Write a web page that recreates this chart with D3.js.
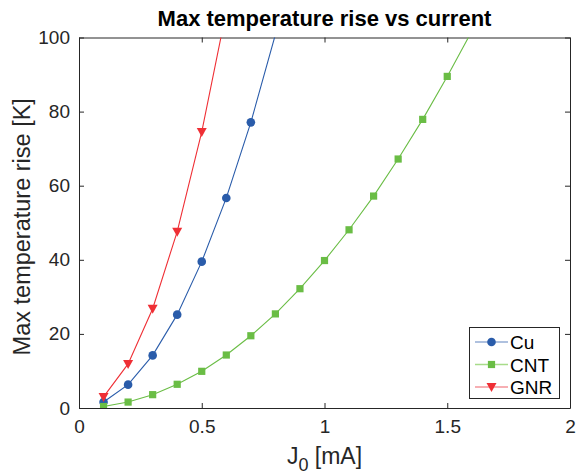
<!DOCTYPE html>
<html>
<head>
<meta charset="utf-8">
<script src="https://cdn.jsdelivr.net/npm/d3@7"></script>
<style>
  body { margin: 0; background: #fff; }
  text { font-family: "Liberation Sans", Arial, sans-serif; }
</style>
</head>
<body>
<script>
// current values (mA)
var current = [0.1, 0.2, 0.3, 0.4, 0.5, 0.6, 0.7, 0.8, 0.9, 1.0, 1.1, 1.2, 1.3, 1.4, 1.5, 1.6];

// max temperature rise (K) per material
var cuRise = [1.6, 6.3, 14.2, 25.2, 39.5, 56.7, 77.1, 100.8];
var cntRise = [0.4, 1.6, 3.6, 6.4, 9.9, 14.3, 19.5, 25.4, 32.2, 39.8, 48.1, 57.2, 67.2, 77.9, 89.5, 101.7];
var gnrRise = [3.0, 11.9, 26.8, 47.6, 74.5, 107.2];

var seriesNames = ['Cu', 'CNT', 'GNR'];
var xTicks = [0, 0.5, 1, 1.5, 2];
var yTicks = [0, 20, 40, 60, 80, 100];

(function () {
var width = 577, height = 475;
// plot box edges (note: "top" is reserved on window, so use other names)
var pLeft = 79, pRight = 570, pTop = 37.5, pBottom = 408;

var svg = d3.select('body').append('svg')
  .attr('width', width)
  .attr('height', height);

var x = d3.scaleLinear().domain([0, 2]).range([pLeft, pRight]);
var y = d3.scaleLinear().domain([0, 100]).range([pBottom, pTop]);

var series = [
  {name: seriesNames[0], values: cuRise, color: '#2a5caa', marker: 'circle'},
  {name: seriesNames[1], values: cntRise, color: '#6abd45', marker: 'square'},
  {name: seriesNames[2], values: gnrRise, color: '#ef2f35', marker: 'triangle'}
];

// clip for the plot area
svg.append('clipPath').attr('id', 'plotclip')
  .append('rect')
  .attr('x', pLeft).attr('y', pTop)
  .attr('width', pRight - pLeft).attr('height', pBottom - pTop);

// axes with inward ticks (box style)
var tickCol = '#262626';
svg.append('g')
  .attr('transform', 'translate(0,' + pBottom + ')')
  .call(d3.axisBottom(x).tickValues(xTicks).tickSizeInner(-5).tickSizeOuter(0).tickPadding(12)
    .tickFormat(function (d) { return d3.format('')(d); }));
svg.append('g')
  .attr('transform', 'translate(0,' + pTop + ')')
  .call(d3.axisTop(x).tickValues(xTicks).tickSizeInner(-5).tickSizeOuter(0).tickFormat(''));
svg.append('g')
  .attr('transform', 'translate(' + pLeft + ',0)')
  .call(d3.axisLeft(y).tickValues(yTicks).tickSizeInner(-5).tickSizeOuter(0).tickPadding(9));
svg.append('g')
  .attr('transform', 'translate(' + pRight + ',0)')
  .call(d3.axisRight(y).tickValues(yTicks).tickSizeInner(-5).tickSizeOuter(0).tickFormat(''));

svg.selectAll('.domain').attr('stroke', tickCol);
svg.selectAll('.tick line').attr('stroke', tickCol);
svg.selectAll('.tick text')
  .attr('fill', '#262626')
  .style('font-size', '19px')
  .style('font-family', '"Liberation Sans", Arial, sans-serif');

// lines and markers
var plot = svg.append('g').attr('clip-path', 'url(#plotclip)');

var line = d3.line()
  .x(function (d, i) { return x(current[i]); })
  .y(function (d) { return y(d); });

function drawMarker(g, type, color, cx, cy) {
  if (type === 'circle') {
    g.append('circle').attr('cx', cx).attr('cy', cy).attr('r', 4.3).attr('fill', color);
  } else if (type === 'square') {
    g.append('rect').attr('x', cx - 3.6).attr('y', cy - 3.6).attr('width', 7.2).attr('height', 7.2).attr('fill', color);
  } else {
    g.append('path')
      .attr('d', 'M' + (cx - 5) + ',' + (cy - 4) + 'L' + (cx + 5) + ',' + (cy - 4) + 'L' + cx + ',' + (cy + 5) + 'Z')
      .attr('fill', color);
  }
}

series.forEach(function (s) {
  plot.append('path')
    .datum(s.values)
    .attr('d', line)
    .attr('fill', 'none')
    .attr('stroke', s.color)
    .attr('stroke-width', 1.1);
  s.values.forEach(function (v, i) {
    if (v <= 100) drawMarker(plot, s.marker, s.color, x(current[i]), y(v));
  });
});

// legend
var legend = svg.append('g');
legend.append('rect')
  .attr('x', 469.5).attr('y', 327.5)
  .attr('width', 90).attr('height', 71)
  .attr('fill', '#fff')
  .attr('stroke', '#262626');
var lightCols = ['#95acd4', '#a8dc8a', '#f5959a'];
series.forEach(function (s, i) {
  var ly = 342 + i * 22.5;
  legend.append('line')
    .attr('x1', 475).attr('x2', 508).attr('y1', ly).attr('y2', ly)
    .attr('stroke', lightCols[i]).attr('stroke-width', 1.5);
  drawMarker(legend, s.marker, s.color, 491.5, ly);
  legend.append('text')
    .attr('x', 510).attr('y', ly + 7)
    .style('font-size', '19px')
    .attr('fill', '#000')
    .text(s.name);
});

// title and axis labels
svg.append('text')
  .attr('x', (pLeft + pRight) / 2).attr('y', 26)
  .attr('text-anchor', 'middle')
  .style('font-size', '22px').style('font-weight', 'bold')
  .text('Max temperature rise vs current');

var xl = svg.append('text')
  .attr('x', (pLeft + pRight) / 2).attr('y', 464)
  .attr('text-anchor', 'middle')
  .style('font-size', '23px')
  .attr('fill', '#262626');
xl.append('tspan').text('J');
xl.append('tspan').attr('dy', 7).style('font-size', '18px').text('0');
xl.append('tspan').attr('dy', -7).text(' [mA]');

svg.append('text')
  .attr('transform', 'translate(30,' + ((pTop + pBottom) / 2 + 4) + ') rotate(-90)')
  .attr('text-anchor', 'middle')
  .style('font-size', '23.5px')
  .attr('fill', '#262626')
  .text('Max temperature rise [K]');
})();
</script>
</body>
</html>
